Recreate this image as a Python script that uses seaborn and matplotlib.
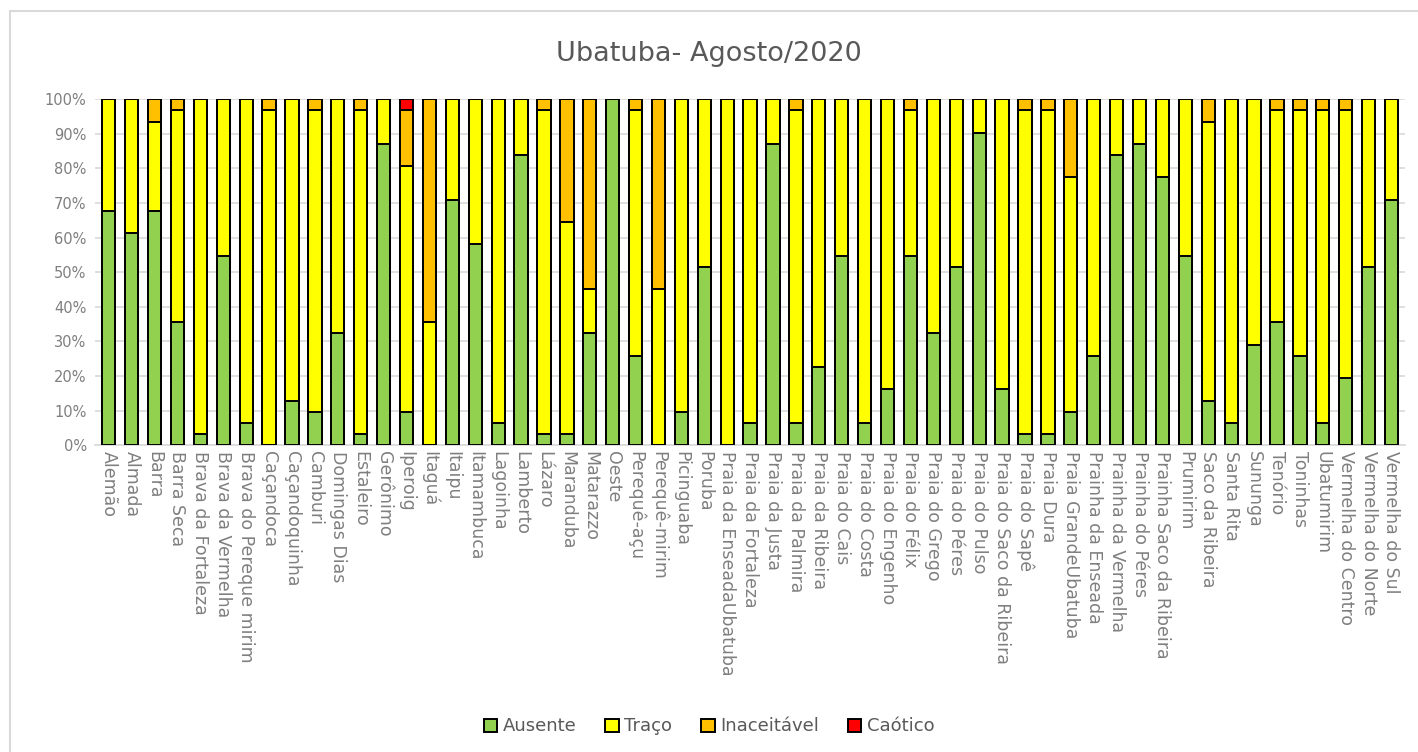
import matplotlib
matplotlib.use("Agg")
import matplotlib.pyplot as plt
import seaborn as sns
import numpy as np
import pandas as pd
from matplotlib.patches import Patch, Rectangle
from matplotlib.ticker import PercentFormatter

categories = [
    "Alemão", "Almada", "Barra", "Barra Seca", "Brava da Fortaleza", "Brava da Vermelha",
    "Brava do Pereque mirim", "Caçandoca", "Caçandoquinha", "Camburi", "Domingas Dias",
    "Estaleiro", "Gerônimo", "Iperoig", "Itaguá", "Itaipu", "Itamambuca", "Lagoinha",
    "Lamberto", "Lázaro", "Maranduba", "Matarazzo", "Oeste", "Perequê-açu", "Perequê-mirim",
    "Picinguaba", "Poruba", "Praia da EnseadaUbatuba", "Praia da Fortaleza", "Praia da Justa",
    "Praia da Palmira", "Praia da Ribeira", "Praia do Cais", "Praia do Costa", "Praia do Engenho",
    "Praia do Félix", "Praia do Grego", "Praia do Péres", "Praia do Pulso",
    "Praia do Saco da Ribeira", "Praia do Sapê", "Praia Dura", "Praia GrandeUbatuba",
    "Prainha da Enseada", "Prainha da Vermelha", "Prainha do Péres", "Prainha Saco da Ribeira",
    "Prumirim", "Saco da Ribeira", "Santa Rita", "Sununga", "Tenório", "Toninhas", "Ubatumirim",
    "Vermelha do Centro", "Vermelha do Norte", "Vermelha do Sul",
]

ausente = [
    67.7, 61.3, 67.7, 35.5, 3.2, 54.8, 6.5, 0.0, 12.9, 9.7, 32.3, 3.2, 87.1, 9.7, 0.0, 71.0,
    58.1, 6.5, 83.9, 3.2, 3.2, 32.3, 100.0, 25.8, 0.0, 9.7, 51.6, 0.0, 6.5, 87.1, 6.5, 22.6,
    54.8, 6.5, 16.1, 54.8, 32.3, 51.6, 90.3, 16.1, 3.2, 3.2, 9.7, 25.8, 83.9, 87.1, 77.4,
    54.8, 12.9, 6.5, 29.0, 35.5, 25.8, 6.5, 19.4, 51.6, 71.0,
]
traco = [
    32.3, 38.7, 25.8, 61.3, 96.8, 45.2, 93.5, 96.8, 87.1, 87.1, 67.7, 93.6, 12.9, 70.9, 35.5, 29.0,
    41.9, 93.5, 16.1, 93.6, 61.3, 12.9, 0.0, 71.0, 45.2, 90.3, 48.4, 100.0, 93.5, 12.9, 90.3, 77.4,
    45.2, 93.5, 83.9, 42.0, 67.7, 48.4, 9.7, 83.9, 93.6, 93.6, 67.7, 74.2, 16.1, 12.9, 22.6,
    45.2, 80.6, 93.5, 71.0, 61.3, 71.0, 90.3, 77.4, 48.4, 29.0,
]
inaceitavel = [
    0.0, 0.0, 6.5, 3.2, 0.0, 0.0, 0.0, 3.2, 0.0, 3.2, 0.0, 3.2, 0.0, 16.2, 64.5, 0.0,
    0.0, 0.0, 0.0, 3.2, 35.5, 54.8, 0.0, 3.2, 54.8, 0.0, 0.0, 0.0, 0.0, 0.0, 3.2, 0.0,
    0.0, 0.0, 0.0, 3.2, 0.0, 0.0, 0.0, 0.0, 3.2, 3.2, 22.6, 0.0, 0.0, 0.0, 0.0,
    0.0, 6.5, 0.0, 0.0, 3.2, 3.2, 3.2, 3.2, 0.0, 0.0,
]
caotico = [0.0] * len(categories)
caotico[categories.index("Iperoig")] = 3.2

series_names = ["Ausente", "Traço", "Inaceitável", "Caótico"]
series_colors = ["#92D050", "#FFFF00", "#FFC000", "#FF0000"]

df = pd.DataFrame({
    "Praia": categories,
    "Ausente": ausente,
    "Traço": traco,
    "Inaceitável": inaceitavel,
    "Caótico": caotico,
})
vals = df[series_names].to_numpy(dtype=float)
vals = vals / vals.sum(axis=1, keepdims=True)
cum = np.cumsum(vals, axis=1)

sns.set_theme(style="white")
plt.rcParams["font.family"] = ["DejaVu Sans"]

fig = plt.figure(figsize=(14.18, 7.52), dpi=100)
ax = fig.add_axes([0.067, 0.408, 0.924, 0.46])

# draw stacked bars by overlaying cumulative totals (top series first)
for i in range(len(series_names) - 1, -1, -1):
    d = pd.DataFrame({"Praia": categories, "v": cum[:, i]})
    sns.barplot(data=d, x="Praia", y="v", color=series_colors[i], ax=ax,
                width=0.58, edgecolor="black", linewidth=1.4, saturation=1, zorder=3)

ax.set_ylim(0, 1)
ax.set_xlim(-0.6, len(categories) - 0.4)
ax.set_yticks(np.arange(0, 1.01, 0.1))
ax.yaxis.set_major_formatter(PercentFormatter(1.0, decimals=0))
ax.grid(axis="y", color="#d9d9d9", linewidth=1.2, zorder=0)
ax.set_axisbelow(True)
for s in ["top", "right", "left"]:
    ax.spines[s].set_visible(False)
ax.spines["bottom"].set_color("#d9d9d9")
ax.spines["bottom"].set_linewidth(1.2)
ax.set_xlabel("")
ax.set_ylabel("")
ax.tick_params(axis="y", length=0, colors="#7f7f7f", labelsize=10.5, pad=6)
ax.tick_params(axis="x", length=0, colors="#7f7f7f", labelsize=12.5, pad=4)
ax.set_xticks(range(len(categories)))
ax.set_xticklabels(categories, rotation=-90, ha="center", va="top", color="#7f7f7f")
for lab in ax.get_yticklabels():
    lab.set_color("#7f7f7f")

fig.text(0.5, 0.928, "Ubatuba- Agosto/2020", ha="center", va="center",
         fontsize=19.5, color="#595959")

handles = [Patch(facecolor=c, edgecolor="black", linewidth=1.4, label=n)
           for n, c in zip(series_names, series_colors)]
fig.legend(handles=handles, loc="center", bbox_to_anchor=(0.5, 0.034), ncol=4,
           frameon=False, fontsize=13, handlelength=0.75, handleheight=0.75,
           handletextpad=0.3, columnspacing=1.6, labelcolor="#595959")

fig.patches.append(Rectangle((0.007, -0.01), 1.0, 0.995, transform=fig.transFigure,
                             fill=False, edgecolor="#d9d9d9", linewidth=1.5, zorder=0))

fig.savefig("out.png", dpi=100)
